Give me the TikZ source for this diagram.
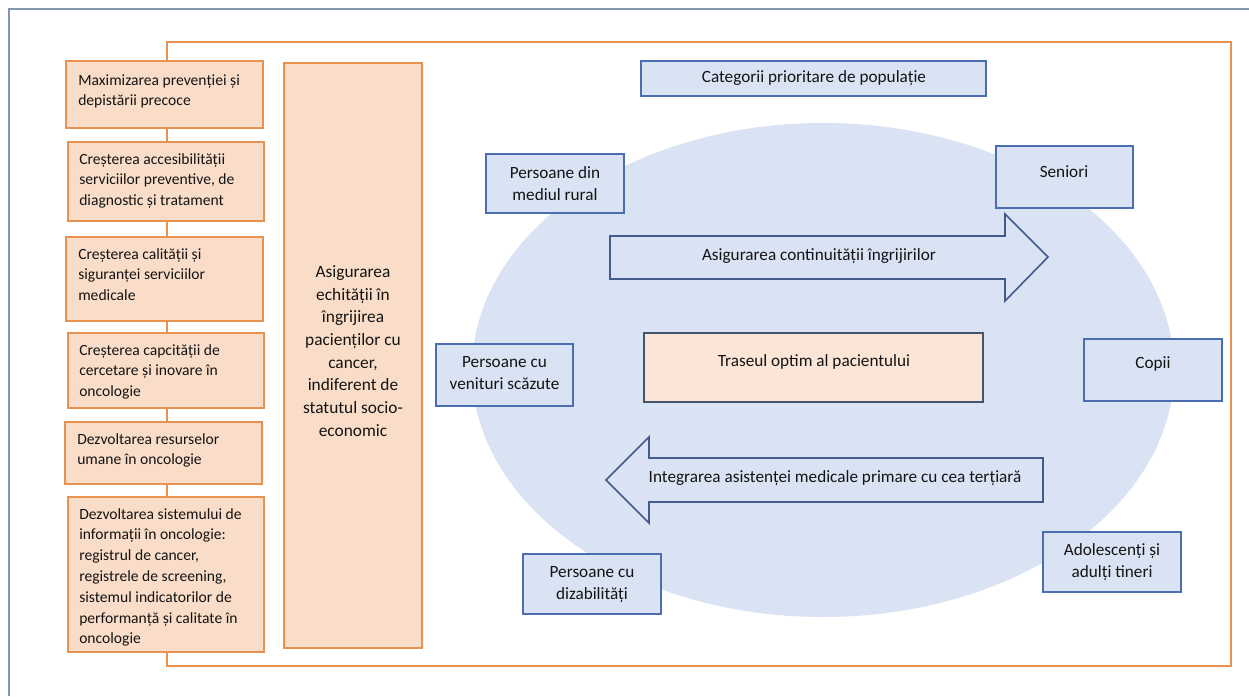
\documentclass[tikz,border=0pt]{standalone}
\usepackage{fontspec}
\setmainfont{Carlito}
\usetikzlibrary{fit,calc}
\definecolor{orln}{RGB}{232,146,82}
\definecolor{orfill}{RGB}{249,221,200}
\definecolor{pchfill}{RGB}{251,229,214}
\definecolor{ellfill}{RGB}{218,227,243}
\definecolor{bluefill}{RGB}{218,227,243}
\definecolor{blueln}{RGB}{74,110,176}
\definecolor{arrln}{RGB}{66,90,140}
\definecolor{slate}{RGB}{68,84,106}
\definecolor{framegray}{RGB}{132,151,176}
\definecolor{txt}{RGB}{20,20,20}
\tikzset{
  lbox/.style={draw=orln, fill=orfill, line width=1.5pt, inner sep=0pt},
  bbox/.style={draw=blueln, fill=bluefill, line width=1.4pt, inner sep=0pt},
  pbox/.style={draw=slate, fill=pchfill, line width=1.4pt, inner sep=0pt},
  ltext/.style={inner sep=0pt, anchor=north west, align=left, text=txt, font=\fontsize{11.7pt}{15.6pt}\selectfont},
  ctext/.style={inner sep=0pt, align=center, text=txt, font=\fontsize{12.9pt}{16.5pt}\selectfont},
  mtext/.style={inner sep=0pt, align=center, text=txt, font=\fontsize{13pt}{17pt}\selectfont},
  arrowshape/.style={draw=arrln, fill=bluefill, line width=1.2pt, line join=miter},
}
\begin{document}
\begin{tikzpicture}[x=0.75pt,y=-0.75pt]
\useasboundingbox (0,0) rectangle (1249,696);
\fill[white] (0,0) rectangle (1249,696);
% outer page frame
\draw[framegray, line width=2pt] (9,696) -- (9,9) -- (1249,9);
% orange frame
\draw[orln, line width=1.5pt] (167,42) rectangle (1231,666);
% ellipse
\fill[ellfill] (823,370) ellipse [x radius=351, y radius=247];
% left boxes
\node[lbox, fit={(66,61) (263,128)}] (b1) {};
\node[lbox, fit={(68,142) (264,221)}] (b2) {};
\node[lbox, fit={(66,237) (263,321)}] (b3) {};
\node[lbox, fit={(68,333) (264,408)}] (b4) {};
\node[lbox, fit={(65,422) (262,484)}] (b5) {};
\node[lbox, fit={(68,497) (264,652)}] (b6) {};
\node[ltext] (t1) at ($(b1.north west)+(13,14)$) {Maximizarea prevenției și\\depistării precoce};
\node[ltext] (t2) at ($(b2.north west)+(12,12)$) {Creșterea accesibilității\\serviciilor preventive, de\\diagnostic și tratament};
\node[ltext] (t3) at ($(b3.north west)+(13,12)$) {Creșterea calității și\\siguranței serviciilor\\medicale};
\node[ltext] (t4) at ($(b4.north west)+(12,12)$) {Creșterea capcității de\\cercetare și inovare în\\oncologie};
\node[ltext] (t5) at ($(b5.north west)+(13,12)$) {Dezvoltarea resurselor\\umane în oncologie};
\node[ltext] (t6) at ($(b6.north west)+(12,12)$) {Dezvoltarea sistemului de\\informații în oncologie:\\registrul de cancer,\\registrele de screening,\\sistemul indicatorilor de\\performanță și calitate în\\oncologie};
% middle tall box
\node[lbox, fit={(284,63) (422,648)}] (mid) {};
\node[mtext] (midt) at (353,351) {Asigurarea\\echității în\\îngrijirea\\pacienților cu\\cancer,\\indiferent de\\statutul socio-\\economic};
% top category
\node[bbox, fit={(641,61) (986,96)}] (cat) {};
\node[ctext] (catt) at (814,78) {Categorii prioritare de populație};
% blue boxes
\node[bbox, fit={(486,154) (624,213)}] (rural) {};
\node[ctext] (ruralt) at (555,184) {Persoane din\\mediul rural};
\node[bbox, fit={(996,146) (1133,208)}] (sen) {};
\node[ctext] (sent) at (1064,172) {Seniori};
\node[bbox, fit={(436,344) (573,406)}] (ven) {};
\node[ctext] (vent) at (504.5,373) {Persoane cu\\venituri scăzute};
\node[bbox, fit={(1084,339) (1222,401)}] (cop) {};
\node[ctext] (copt) at (1153,364) {Copii};
\node[bbox, fit={(523,554) (661,614)}] (diz) {};
\node[ctext] (dizt) at (592,585) {Persoane cu\\dizabilități};
\node[bbox, fit={(1043,532) (1181,592)}] (ado) {};
\node[ctext] (adot) at (1112,562) {Adolescenți și\\adulți tineri};
% center peach box
\node[pbox, fit={(644,333) (983,402)}] (tra) {};
\node[ctext] (trat) at (814,362) {Traseul optim al pacientului};
% right arrow
\draw[arrowshape] (610,236) -- (1005,236) -- (1005,214) -- (1048,257) -- (1005,301) -- (1005,279) -- (610,279) -- cycle;
\node[ctext] (arr1t) at (819,256) {Asigurarea continuității îngrijirilor};
% left arrow
\draw[arrowshape] (1043,458) -- (649,458) -- (649,437) -- (606,480) -- (649,523) -- (649,502) -- (1043,502) -- cycle;
\node[ctext] (arr2t) at (835,478) {Integrarea asistenței medicale primare cu cea terțiară};
\end{tikzpicture}
\end{document}
